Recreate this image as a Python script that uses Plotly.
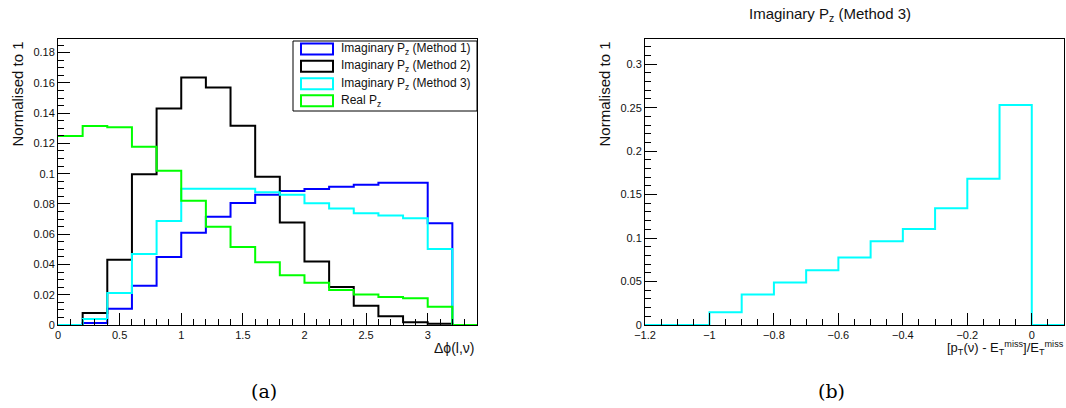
import plotly.graph_objects as go

W, H = 1066, 408

# ---- (a) Δφ(l,ν): 17 bins of width 0.2 on [0, 3.4] ----
dphi_edges = [0.0, 0.2, 0.4, 0.6, 0.8, 1.0, 1.2, 1.4, 1.6, 1.8, 2.0,
              2.2, 2.4, 2.6, 2.8, 3.0, 3.2, 3.4]
method1 = [0.0, 0.0013, 0.0108, 0.026, 0.045, 0.0609, 0.0715, 0.0807, 0.086,
           0.0885, 0.0898, 0.0913, 0.0927, 0.094, 0.094, 0.0673, 0.0]
method2 = [0.0, 0.0079, 0.0432, 0.0997, 0.143, 0.1635, 0.157, 0.1317, 0.098,
           0.0677, 0.042, 0.0251, 0.0128, 0.0057, 0.0018, 0.0008, 0.0]
method3 = [0.0, 0.004, 0.0212, 0.047, 0.0688, 0.09, 0.09, 0.09, 0.0878,
           0.086, 0.0805, 0.077, 0.0739, 0.0724, 0.0706, 0.0503, 0.0]
real_pz = [0.1249, 0.1315, 0.1306, 0.1178, 0.1019, 0.0821, 0.0649, 0.0516,
           0.0415, 0.0329, 0.028, 0.0232, 0.0201, 0.0185, 0.0176, 0.0121, 0.0]

series_names = ["Imaginary P<sub>z</sub> (Method 1)",
                "Imaginary P<sub>z</sub> (Method 2)",
                "Imaginary P<sub>z</sub> (Method 3)",
                "Real P<sub>z</sub>"]
series_colors = ["#0000ff", "#000000", "#00ffff", "#00ff00"]
series_values = [method1, method2, method3, real_pz]

# ---- (b) [pT(ν) - ETmiss]/ETmiss: 13 bins of width 0.1 on [-1.2, 0.1] ----
resid_edges = [-1.2, -1.1, -1.0, -0.9, -0.8, -0.7, -0.6, -0.5, -0.4,
               -0.3, -0.2, -0.1, 0.0, 0.1]
resid_m3 = [0.0, 0.0, 0.0146, 0.035, 0.0488, 0.0631, 0.0777, 0.0962,
            0.1104, 0.1343, 0.1681, 0.2531, 0.0]


def step_xy(edges, vals):
    # points for an "hv" step outline covering every bin
    return list(edges), list(vals) + [vals[-1]]


def px_x(p):
    return p / W


def px_y(p):
    return 1 - p / H


fig = go.Figure()

for name, col, vals in zip(series_names, series_colors, series_values):
    xs, ys = step_xy(dphi_edges, vals)
    fig.add_trace(go.Scatter(x=xs, y=ys, mode="lines", line_shape="hv",
                             line=dict(color=col, width=2), name=name,
                             showlegend=False, xaxis="x", yaxis="y"))

xs, ys = step_xy(resid_edges, resid_m3)
fig.add_trace(go.Scatter(x=xs, y=ys, mode="lines", line_shape="hv",
                         line=dict(color="#00ffff", width=2),
                         name=series_names[2], showlegend=False,
                         xaxis="x2", yaxis="y2"))

tick_font = dict(family="Liberation Sans, Arial, sans-serif", size=11, color="#111")
axis_common = dict(showline=True, linecolor="black", linewidth=1, mirror=True,
                   ticks="inside", tickcolor="black", tickwidth=1,
                   showgrid=False, zeroline=False, tickfont=tick_font,
                   automargin=False)

fig.update_layout(
    width=W, height=H,
    margin=dict(l=0, r=0, t=0, b=0),
    paper_bgcolor="white", plot_bgcolor="white",
    xaxis=dict(domain=[px_x(58), px_x(477)], range=[0, 3.4], dtick=0.5, tick0=0,
               ticklen=12, minor=dict(ticks="inside", dtick=0.1, ticklen=6,
                                      tickcolor="black"),
               anchor="y", **axis_common),
    yaxis=dict(domain=[px_y(325), px_y(39)], range=[0, 0.189], dtick=0.02, tick0=0,
               ticklen=12, minor=dict(ticks="inside", dtick=0.005, ticklen=6,
                                      tickcolor="black"),
               anchor="x", **axis_common),
    xaxis2=dict(domain=[px_x(645), px_x(1064)], range=[-1.2, 0.1], dtick=0.2,
                tick0=0, ticklen=12,
                minor=dict(ticks="inside", dtick=0.05, ticklen=6, tickcolor="black"),
                anchor="y2", **axis_common),
    yaxis2=dict(domain=[px_y(325), px_y(39)], range=[0, 0.329], dtick=0.05, tick0=0,
                ticklen=12, minor=dict(ticks="inside", dtick=0.01, ticklen=6,
                                       tickcolor="black"),
                anchor="x2", **axis_common),
)

title_font = dict(family="Liberation Sans, Arial, sans-serif", size=15, color="#111")
annotations = [
    dict(text="Normalised to 1", x=px_x(17), y=px_y(40), textangle=-90,
         xanchor="center", yanchor="top", font=title_font),
    dict(text="Normalised to 1", x=px_x(604), y=px_y(40), textangle=-90,
         xanchor="center", yanchor="top", font=title_font),
    dict(text="Δϕ(l,ν)", x=px_x(477), y=px_y(348), xanchor="right",
         yanchor="middle", font=dict(family="Liberation Sans, Arial, sans-serif",
                                     size=14, color="#111")),
    dict(text="[p<sub>T</sub>(ν) - E<sub>T</sub><sup>miss</sup>]/E<sub>T</sub><sup>miss</sup>",
         x=px_x(1066), y=px_y(348), xanchor="right", yanchor="middle",
         font=dict(family="Liberation Sans, Arial, sans-serif", size=13, color="#111")),
    dict(text="Imaginary P<sub>z</sub> (Method 3)", x=px_x(830), y=px_y(15),
         xanchor="center", yanchor="middle", font=title_font),
    dict(text="(a)", x=px_x(264), y=px_y(391), xanchor="center", yanchor="middle",
         font=dict(family="DejaVu Serif, serif", size=19, color="black")),
    dict(text="(b)", x=px_x(831), y=px_y(391), xanchor="center", yanchor="middle",
         font=dict(family="DejaVu Serif, serif", size=19, color="black")),
]

# Legend box drawn as shapes and text in the upper right of panel (a)
shapes = [dict(type="rect", xref="paper", yref="paper",
               x0=px_x(293), x1=px_x(477), y0=px_y(111), y1=px_y(41),
               line=dict(color="black", width=1), fillcolor="white", layer="above")]
row_centers = [49, 66.3, 83.7, 100.7]
for name, col, yc in zip(series_names, series_colors, row_centers):
    shapes.append(dict(type="rect", xref="paper", yref="paper",
                       x0=px_x(301), x1=px_x(333), y0=px_y(yc + 5.5), y1=px_y(yc - 5.5),
                       line=dict(color=col, width=2), fillcolor="rgba(0,0,0,0)",
                       layer="above"))
    annotations.append(dict(text=name, x=px_x(339), y=px_y(yc), xanchor="left",
                            yanchor="middle",
                            font=dict(family="Liberation Sans, Arial, sans-serif",
                                      size=12, color="#111")))

for a in annotations:
    a.setdefault("xref", "paper")
    a.setdefault("yref", "paper")
    a.setdefault("showarrow", False)

fig.update_layout(annotations=annotations, shapes=shapes)

fig.write_html("out.html")
